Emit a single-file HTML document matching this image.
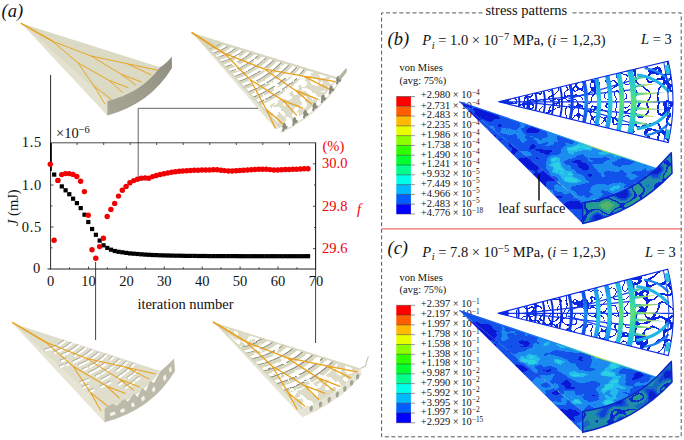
<!DOCTYPE html>
<html lang="en">
<head>
<meta charset="utf-8">
<title>Leaf venation optimisation figure</title>
<style>
html,body{margin:0;padding:0;background:#fff;}
body{width:684px;height:440px;overflow:hidden;font-family:"Liberation Serif",serif;}
svg{display:block;}
text{font-family:"Liberation Serif",serif;}
.it{font-style:italic;}
</style>
</head>
<body>
<svg width="684" height="440" viewBox="0 0 684 440">
<rect width="684" height="440" fill="#ffffff"/>

<defs>
<filter id="fsurfB" x="0" y="0" width="1" height="1" color-interpolation-filters="sRGB">
<feTurbulence type="fractalNoise" baseFrequency="0.04 0.07" numOctaves="3" seed="3" result="t"/>
<feColorMatrix in="t" type="matrix" values="1 0 0 0 0 1 0 0 0 0 1 0 0 0 0 0 0 0 0 1" result="n"/>
<feComposite in="SourceGraphic" in2="n" operator="arithmetic" k1="0" k2="1" k3="1.30" k4="-0.67" result="v"/>
<feColorMatrix in="v" type="matrix" values="1 0 0 0 0 1 0 0 0 0 1 0 0 0 0 0 0 0 0 1" result="v1"/>
<feComponentTransfer in="v1" result="c"><feFuncR type="discrete" tableValues="0.039 0.039 0.039 0.039 0.078 0.078 0.078 0.078 0.078 0.110 0.110 0.110 0.110 0.110 0.141 0.141 0.173 0.173 0.173 0.173"/><feFuncG type="discrete" tableValues="0.094 0.094 0.094 0.094 0.322 0.322 0.322 0.322 0.322 0.549 0.549 0.549 0.549 0.549 0.737 0.737 0.816 0.816 0.816 0.816"/><feFuncB type="discrete" tableValues="0.847 0.847 0.847 0.847 0.918 0.918 0.918 0.918 0.918 0.941 0.941 0.941 0.941 0.941 0.925 0.925 0.894 0.894 0.894 0.894"/></feComponentTransfer>
<feComposite in="c" in2="SourceGraphic" operator="in"/>
</filter>
<filter id="fsurfC" x="0" y="0" width="1" height="1" color-interpolation-filters="sRGB">
<feTurbulence type="fractalNoise" baseFrequency="0.04 0.07" numOctaves="3" seed="11" result="t"/>
<feColorMatrix in="t" type="matrix" values="1 0 0 0 0 1 0 0 0 0 1 0 0 0 0 0 0 0 0 1" result="n"/>
<feComposite in="SourceGraphic" in2="n" operator="arithmetic" k1="0" k2="1" k3="1.30" k4="-0.67" result="v"/>
<feColorMatrix in="v" type="matrix" values="1 0 0 0 0 1 0 0 0 0 1 0 0 0 0 0 0 0 0 1" result="v1"/>
<feComponentTransfer in="v1" result="c"><feFuncR type="discrete" tableValues="0.039 0.039 0.039 0.039 0.078 0.078 0.078 0.078 0.078 0.110 0.110 0.110 0.110 0.110 0.141 0.141 0.173 0.173 0.173 0.173"/><feFuncG type="discrete" tableValues="0.094 0.094 0.094 0.094 0.322 0.322 0.322 0.322 0.322 0.549 0.549 0.549 0.549 0.549 0.737 0.737 0.816 0.816 0.816 0.816"/><feFuncB type="discrete" tableValues="0.847 0.847 0.847 0.847 0.918 0.918 0.918 0.918 0.918 0.941 0.941 0.941 0.941 0.941 0.925 0.925 0.894 0.894 0.894 0.894"/></feComponentTransfer>
<feComposite in="c" in2="SourceGraphic" operator="in"/>
</filter>
<filter id="fwallB" x="0" y="0" width="1" height="1" color-interpolation-filters="sRGB">
<feTurbulence type="fractalNoise" baseFrequency="0.065 0.085" numOctaves="1" seed="5" result="t"/>
<feColorMatrix in="t" type="matrix" values="1 0 0 0 0 1 0 0 0 0 1 0 0 0 0 0 0 0 0 1" result="n"/>
<feComposite in="SourceGraphic" in2="n" operator="arithmetic" k1="0" k2="1" k3="1.70" k4="-0.95" result="v"/>
<feColorMatrix in="v" type="matrix" values="1 0 0 0 0 1 0 0 0 0 1 0 0 0 0 0 0 0 0 1" result="v1"/>
<feComponentTransfer in="v1" result="c"><feFuncR type="discrete" tableValues="0.039 0.039 0.039 0.063 0.063 0.086 0.086 0.118 0.118 0.118 0.039 0.039 0.145 0.145 0.145 0.220 0.220 0.314 0.314 0.314"/><feFuncG type="discrete" tableValues="0.125 0.125 0.125 0.251 0.251 0.408 0.408 0.549 0.549 0.549 0.157 0.157 0.604 0.604 0.604 0.659 0.659 0.706 0.706 0.706"/><feFuncB type="discrete" tableValues="0.816 0.816 0.816 0.847 0.847 0.769 0.769 0.659 0.659 0.659 0.816 0.816 0.580 0.580 0.580 0.486 0.486 0.424 0.424 0.424"/></feComponentTransfer>
<feComposite in="c" in2="SourceGraphic" operator="in"/>
</filter>
<filter id="fwallC" x="0" y="0" width="1" height="1" color-interpolation-filters="sRGB">
<feTurbulence type="fractalNoise" baseFrequency="0.065 0.085" numOctaves="1" seed="9" result="t"/>
<feColorMatrix in="t" type="matrix" values="1 0 0 0 0 1 0 0 0 0 1 0 0 0 0 0 0 0 0 1" result="n"/>
<feComposite in="SourceGraphic" in2="n" operator="arithmetic" k1="0" k2="1" k3="1.70" k4="-0.95" result="v"/>
<feColorMatrix in="v" type="matrix" values="1 0 0 0 0 1 0 0 0 0 1 0 0 0 0 0 0 0 0 1" result="v1"/>
<feComponentTransfer in="v1" result="c"><feFuncR type="discrete" tableValues="0.039 0.039 0.039 0.063 0.063 0.086 0.086 0.118 0.118 0.118 0.039 0.039 0.145 0.145 0.145 0.220 0.220 0.314 0.314 0.314"/><feFuncG type="discrete" tableValues="0.125 0.125 0.125 0.251 0.251 0.408 0.408 0.549 0.549 0.549 0.157 0.157 0.604 0.604 0.604 0.659 0.659 0.706 0.706 0.706"/><feFuncB type="discrete" tableValues="0.816 0.816 0.816 0.847 0.847 0.769 0.769 0.659 0.659 0.659 0.816 0.816 0.580 0.580 0.580 0.486 0.486 0.424 0.424 0.424"/></feComponentTransfer>
<feComposite in="c" in2="SourceGraphic" operator="in"/>
</filter>
<linearGradient id="gsurf" gradientUnits="userSpaceOnUse" x1="459" y1="102" x2="640" y2="195">
<stop offset="0" stop-color="#1c1c1c"/><stop offset="0.18" stop-color="#484848"/><stop offset="0.45" stop-color="#848484"/><stop offset="0.8" stop-color="#8a8a8a"/><stop offset="1" stop-color="#747474"/></linearGradient>
<linearGradient id="gwall" gradientUnits="userSpaceOnUse" x1="583" y1="213" x2="672" y2="163">
<stop offset="0" stop-color="#888"/><stop offset="0.5" stop-color="#8c8c8c"/><stop offset="1" stop-color="#747474"/></linearGradient>
<linearGradient id="gside" gradientUnits="userSpaceOnUse" x1="459" y1="102" x2="583" y2="213"><stop offset="0" stop-color="#202020"/><stop offset="0.4" stop-color="#484848"/><stop offset="1" stop-color="#5c5c5c"/></linearGradient>
<linearGradient id="gfringe" gradientUnits="userSpaceOnUse" x1="459" y1="102" x2="583" y2="203"><stop offset="0" stop-color="#1452ea"/><stop offset="0.45" stop-color="#1c8cf0"/><stop offset="0.6" stop-color="#40dca0"/><stop offset="0.72" stop-color="#c8e040"/><stop offset="0.85" stop-color="#34d8c0"/><stop offset="1" stop-color="#1c8cf0"/></linearGradient>
<linearGradient id="gfringe2" gradientUnits="userSpaceOnUse" x1="459" y1="102" x2="656" y2="169"><stop offset="0" stop-color="#1452ea"/><stop offset="0.5" stop-color="#1c8cf0"/><stop offset="0.62" stop-color="#34d8c0"/><stop offset="0.72" stop-color="#d8e040"/><stop offset="0.8" stop-color="#40dca0"/><stop offset="1" stop-color="#1c8cf0"/></linearGradient>
<filter id="fmazeB" x="0" y="0" width="1" height="1" color-interpolation-filters="sRGB">
<feTurbulence type="fractalNoise" baseFrequency="0.12 0.12" numOctaves="1" seed="4" result="t"/>
<feColorMatrix in="t" type="matrix" values="0 0 0 0 0.039 0 0 0 0 0.157 0 0 0 0 0.878 2.2 0 0 0 -0.6" result="n"/>
<feComponentTransfer in="n" result="c"><feFuncA type="discrete" tableValues="0 0 0 0 0 0 0 0 0 0 0 0 0 0 0 0 0 0 1 1 1 1 1 0 0 0 0 0 0 0 0 0 0 0 0 0 0 0 0 0"/></feComponentTransfer>
<feComposite in="c" in2="SourceGraphic" operator="in"/>
</filter>
<filter id="fmazeC" x="0" y="0" width="1" height="1" color-interpolation-filters="sRGB">
<feTurbulence type="fractalNoise" baseFrequency="0.12 0.12" numOctaves="1" seed="8" result="t"/>
<feColorMatrix in="t" type="matrix" values="0 0 0 0 0.039 0 0 0 0 0.157 0 0 0 0 0.878 2.2 0 0 0 -0.6" result="n"/>
<feComponentTransfer in="n" result="c"><feFuncA type="discrete" tableValues="0 0 0 0 0 0 0 0 0 0 0 0 0 0 0 0 0 0 1 1 1 1 1 0 0 0 0 0 0 0 0 0 0 0 0 0 0 0 0 0"/></feComponentTransfer>
<feComposite in="c" in2="SourceGraphic" operator="in"/>
</filter>
<filter id="fmazeB2" x="0" y="0" width="1" height="1" color-interpolation-filters="sRGB">
<feTurbulence type="fractalNoise" baseFrequency="0.088 0.088" numOctaves="1" seed="14" result="t"/>
<feColorMatrix in="t" type="matrix" values="0 0 0 0 0.039 0 0 0 0 0.157 0 0 0 0 0.878 2.2 0 0 0 -0.6" result="n"/>
<feComponentTransfer in="n" result="c"><feFuncA type="discrete" tableValues="0 0 0 0 0 0 0 0 0 0 0 0 0 0 0 0 0 1 1 1 1 1 1 1 0 0 0 0 0 0 0 0 0 0 0 0 0 0 0 0"/></feComponentTransfer>
<feComposite in="c" in2="SourceGraphic" operator="in"/>
</filter>
<filter id="fmazeC2" x="0" y="0" width="1" height="1" color-interpolation-filters="sRGB">
<feTurbulence type="fractalNoise" baseFrequency="0.088 0.088" numOctaves="1" seed="18" result="t"/>
<feColorMatrix in="t" type="matrix" values="0 0 0 0 0.039 0 0 0 0 0.157 0 0 0 0 0.878 2.2 0 0 0 -0.6" result="n"/>
<feComponentTransfer in="n" result="c"><feFuncA type="discrete" tableValues="0 0 0 0 0 0 0 0 0 0 0 0 0 0 0 0 0 1 1 1 1 1 1 1 0 0 0 0 0 0 0 0 0 0 0 0 0 0 0 0"/></feComponentTransfer>
<feComposite in="c" in2="SourceGraphic" operator="in"/>
</filter>
<clipPath id="clipfanB"><path d="M498.5 101.8 L668.2 61.1 A176.5 176.5 0 0 1 668.2 142.5 Z"/></clipPath>
<linearGradient id="garcB" gradientUnits="userSpaceOnUse" x1="0" y1="55.8" x2="0" y2="147.8"><stop offset="0" stop-color="#1878f0"/><stop offset="0.22" stop-color="#22c0e0"/><stop offset="0.42" stop-color="#40dc98"/><stop offset="0.5" stop-color="#60e070"/><stop offset="0.58" stop-color="#40dc98"/><stop offset="0.78" stop-color="#22c0e0"/><stop offset="1" stop-color="#1878f0"/></linearGradient>
<linearGradient id="garc2B" gradientUnits="userSpaceOnUse" x1="0" y1="61.8" x2="0" y2="141.8"><stop offset="0" stop-color="#1460ec"/><stop offset="0.25" stop-color="#1ca0f0"/><stop offset="0.5" stop-color="#28d0e0"/><stop offset="0.75" stop-color="#1ca0f0"/><stop offset="1" stop-color="#1460ec"/></linearGradient>
<linearGradient id="garc3B" gradientUnits="userSpaceOnUse" x1="0" y1="71.8" x2="0" y2="131.8"><stop offset="0" stop-color="#0c38e4"/><stop offset="0.35" stop-color="#1668f0"/><stop offset="0.5" stop-color="#1c90f0"/><stop offset="0.65" stop-color="#1668f0"/><stop offset="1" stop-color="#0c38e4"/></linearGradient>
<linearGradient id="gthornB" gradientUnits="userSpaceOnUse" x1="634.5" y1="0" x2="663.5" y2="0"><stop offset="0" stop-color="#30c8c0"/><stop offset="0.5" stop-color="#b0e040"/><stop offset="1" stop-color="#28a0e8"/></linearGradient>
<clipPath id="clipfanC"><path d="M497.9 313.3 L667.7 269.1 A177.5 177.5 0 0 1 668.3 355.5 Z"/></clipPath>
<linearGradient id="garcC" gradientUnits="userSpaceOnUse" x1="0" y1="267.3" x2="0" y2="359.3"><stop offset="0" stop-color="#1878f0"/><stop offset="0.22" stop-color="#22c0e0"/><stop offset="0.42" stop-color="#40dc98"/><stop offset="0.5" stop-color="#60e070"/><stop offset="0.58" stop-color="#40dc98"/><stop offset="0.78" stop-color="#22c0e0"/><stop offset="1" stop-color="#1878f0"/></linearGradient>
<linearGradient id="garc2C" gradientUnits="userSpaceOnUse" x1="0" y1="273.3" x2="0" y2="353.3"><stop offset="0" stop-color="#1460ec"/><stop offset="0.25" stop-color="#1ca0f0"/><stop offset="0.5" stop-color="#28d0e0"/><stop offset="0.75" stop-color="#1ca0f0"/><stop offset="1" stop-color="#1460ec"/></linearGradient>
<linearGradient id="garc3C" gradientUnits="userSpaceOnUse" x1="0" y1="283.3" x2="0" y2="343.3"><stop offset="0" stop-color="#0c38e4"/><stop offset="0.35" stop-color="#1668f0"/><stop offset="0.5" stop-color="#1c90f0"/><stop offset="0.65" stop-color="#1668f0"/><stop offset="1" stop-color="#0c38e4"/></linearGradient>
<linearGradient id="gthornC" gradientUnits="userSpaceOnUse" x1="633.9" y1="0" x2="662.9" y2="0"><stop offset="0" stop-color="#30c8c0"/><stop offset="0.5" stop-color="#b0e040"/><stop offset="1" stop-color="#28a0e8"/></linearGradient><linearGradient id="gw1" gradientUnits="userSpaceOnUse" x1="107" y1="108" x2="172" y2="62"><stop offset="0" stop-color="#a6a594"/><stop offset="0.6" stop-color="#9c9b8a"/><stop offset="1" stop-color="#8f8f81"/></linearGradient>
<clipPath id="clip_leaf2"><path d="M192.3 33.1 L338.0 77.5 L338.0 77.5 L334.6 82.5 L331.0 87.3 L327.0 92.1 L322.8 96.7 L318.2 101.2 L313.4 105.6 L308.4 109.7 L303.1 113.8 L297.5 117.6 L291.7 121.3 L285.7 124.7 L279.5 128.0 Z"/></clipPath>
<filter id="fd_leaf2" x="-0.05" y="-0.05" width="1.1" height="1.1" color-interpolation-filters="sRGB"><feTurbulence type="fractalNoise" baseFrequency="0.09 0.09" numOctaves="2" seed="22" result="t"/><feDisplacementMap in="SourceGraphic" in2="t" scale="1.8" xChannelSelector="R" yChannelSelector="G"/></filter>
<filter id="fw_leaf2" x="0" y="0" width="1" height="1" color-interpolation-filters="sRGB">
<feTurbulence type="fractalNoise" baseFrequency="0.15 0.15" numOctaves="2" seed="23" result="t"/>
<feColorMatrix in="t" type="matrix" values="0 0 0 0 0.992 0 0 0 0 0.992 0 0 0 0 0.973 2.2 0 0 0 -0.6" result="n"/>
<feComponentTransfer in="n" result="c"><feFuncA type="discrete" tableValues="0 0 0 0 0 0 0 0 0 0 0 0 0 0 0 0 0 0 0 0 0 0 0 0 0 0 0 0 0 0 1 1 1 1 1 1 1 1 1 1"/></feComponentTransfer>
<feComposite in="c" in2="SourceGraphic" operator="in"/>
</filter>
<filter id="fb_leaf2" x="0" y="0" width="1" height="1" color-interpolation-filters="sRGB">
<feTurbulence type="fractalNoise" baseFrequency="0.14 0.14" numOctaves="2" seed="21" result="t"/>
<feColorMatrix in="t" type="matrix" values="0 0 0 0 0.867 0 0 0 0 0.863 0 0 0 0 0.784 2.2 0 0 0 -0.6" result="n"/>
<feComponentTransfer in="n" result="c"><feFuncA type="discrete" tableValues="0 0 0 0 0 0 0 0 0 0 0 0 0 0 0 0 0 1 1 1 1 1 1 1 1 1 1 1 1 1 1 1 1 1 1 1 1 1 1 1"/></feComponentTransfer>
<feComposite in="c" in2="SourceGraphic" operator="in"/>
</filter>
<clipPath id="clip_leaf3"><path d="M12.5 323.3 L160.5 371.1 Q141 399 104.4 408.8 Z"/></clipPath>
<clipPath id="clip_leaf4"><path d="M213.8 322.5 L360.5 368.6 L360.5 368.6 L357.1 372.8 L353.4 376.8 L349.4 380.7 L345.1 384.5 L340.5 388.2 L335.6 391.7 L330.5 395.1 L325.1 398.3 L319.5 401.4 L313.6 404.3 L307.6 407.0 L301.3 409.5 Z"/></clipPath>
<filter id="fd_leaf4" x="-0.05" y="-0.05" width="1.1" height="1.1" color-interpolation-filters="sRGB"><feTurbulence type="fractalNoise" baseFrequency="0.09 0.09" numOctaves="2" seed="34" result="t"/><feDisplacementMap in="SourceGraphic" in2="t" scale="2.2" xChannelSelector="R" yChannelSelector="G"/></filter>
<filter id="fa_leaf4" x="0" y="0" width="1" height="1" color-interpolation-filters="sRGB">
<feTurbulence type="fractalNoise" baseFrequency="0.2 0.2" numOctaves="2" seed="38" result="t"/>
<feColorMatrix in="t" type="matrix" values="0 0 0 0 0.867 0 0 0 0 0.863 0 0 0 0 0.784 2.2 0 0 0 -0.6" result="n"/>
<feComponentTransfer in="n" result="c"><feFuncA type="discrete" tableValues="0 0 0 0 0 0 0 0 0 0 0 0 0 0 0 0 1 1 1 1 1 1 1 1 1 1 1 1 1 1 1 1 1 1 1 1 1 1 1 1"/></feComponentTransfer>
<feComposite in="c" in2="SourceGraphic" operator="in"/>
</filter>
<filter id="fw_leaf4" x="0" y="0" width="1" height="1" color-interpolation-filters="sRGB">
<feTurbulence type="fractalNoise" baseFrequency="0.15 0.15" numOctaves="2" seed="35" result="t"/>
<feColorMatrix in="t" type="matrix" values="0 0 0 0 0.992 0 0 0 0 0.992 0 0 0 0 0.973 2.2 0 0 0 -0.6" result="n"/>
<feComponentTransfer in="n" result="c"><feFuncA type="discrete" tableValues="0 0 0 0 0 0 0 0 0 0 0 0 0 0 0 0 0 0 0 0 0 0 0 0 0 0 0 0 0 0 0 0 0 1 1 1 1 1 1 1"/></feComponentTransfer>
<feComposite in="c" in2="SourceGraphic" operator="in"/>
</filter>
<filter id="fb_leaf4" x="0" y="0" width="1" height="1" color-interpolation-filters="sRGB">
<feTurbulence type="fractalNoise" baseFrequency="0.11 0.11" numOctaves="2" seed="33" result="t"/>
<feColorMatrix in="t" type="matrix" values="0 0 0 0 0.867 0 0 0 0 0.863 0 0 0 0 0.784 2.2 0 0 0 -0.6" result="n"/>
<feComponentTransfer in="n" result="c"><feFuncA type="discrete" tableValues="0 0 0 0 0 0 0 0 0 0 0 0 0 0 0 0 0 1 1 1 1 1 1 1 1 1 1 1 1 1 1 1 1 1 1 1 1 1 1 1"/></feComponentTransfer>
<feComposite in="c" in2="SourceGraphic" operator="in"/>
</filter></defs>

<g id="leaf1">
<path d="M21.1 23.2 L107.3 100.9 L107.3 115.5 Z" fill="#e3e2d0"/>
<path d="M21.1 23.2 L160 67.3 Q141 93 107.3 100.9 Z" fill="#dbdac4"/>
<path d="M107.3 100.9 Q141 93 160 67.3 Q168 62 171.8 56.4 L172 68 Q150 104 107.3 115.5 Z" fill="url(#gw1)"/>
<path d="M52.4 41.2 L90.9 55.9 L127.5 63.8 L157.7 70.2 M127.5 63.8 L151.3 75 M90.9 55.9 L121.1 74.2 L141.8 82.1 M121.1 74.2 L136.2 85.3 M52.4 41.2 L77.8 62.7 L109.2 80.5 L128.3 87.7 M109.2 80.5 L122.7 92.5 M77.8 62.7 L94.1 86.1 L105.2 104.4 M94.1 86.1 L111.6 99.6" fill="none" stroke="#e9a11c" stroke-width="0.95" stroke-linejoin="round"/>
<path d="M21.2 23.4 L52.4 41.2" fill="none" stroke="#e9a11c" stroke-width="1.5" stroke-linecap="round"/>
</g>
<g id="leaf2">
<path d="M192.3 33.1 L279.5 128 L276 129.5 Z" fill="#e6e5d4"/>
<path d="M192.3 33.1 L338.0 77.5 L338.0 77.5 L334.6 82.5 L331.0 87.3 L327.0 92.1 L322.8 96.7 L318.2 101.2 L313.4 105.6 L308.4 109.7 L303.1 113.8 L297.5 117.6 L291.7 121.3 L285.7 124.7 L279.5 128.0 Z" fill="#ffffff"/>
<g clip-path="url(#clip_leaf2)">
<g filter="url(#fd_leaf2)">
<path d="M192.3 33.1 L221.4 42.0 L221.4 42.0 L219.2 43.6 L216.9 45.1 L214.4 46.3 L211.9 47.3 L209.3 48.1 L206.7 48.7 Z" fill="#d8d7c0"/>
<path d="M222.4 42.3 L221.0 43.3 L219.6 44.3 L218.2 45.2 L216.7 46.0 L215.1 46.8 L213.6 47.4 L212.0 48.0 L210.4 48.5 L208.8 48.9 L207.2 49.3" fill="none" stroke="#8c8c80" stroke-width="1.15"/>
<path d="M224.4 42.9 L222.9 44.0 L221.4 45.0 L219.9 46.0 L218.3 46.9 L216.7 47.7 L215.0 48.4 L213.3 49.0 L211.6 49.6 L209.9 50.0 L208.2 50.4" fill="none" stroke="#d8d7c0" stroke-width="2.70"/>
<path d="M230.0 44.6 L228.3 45.9 L226.6 47.1 L224.8 48.3 L222.9 49.3 L221.1 50.3 L219.1 51.2 L217.2 51.9 L215.2 52.6 L213.2 53.2 L211.2 53.6" fill="none" stroke="#8c8c80" stroke-width="1.15"/>
<path d="M231.9 45.2 L230.2 46.6 L228.4 47.9 L226.5 49.1 L224.6 50.2 L222.6 51.2 L220.6 52.1 L218.5 53.0 L216.4 53.7 L214.3 54.3 L212.2 54.8" fill="none" stroke="#d8d7c0" stroke-width="2.70"/>
<path d="M237.5 46.9 L235.6 48.5 L233.6 50.0 L231.5 51.4 L229.3 52.7 L227.1 53.9 L224.8 55.0 L222.4 55.9 L220.1 56.8 L217.7 57.5 L215.3 58.1" fill="none" stroke="#8c8c80" stroke-width="1.15"/>
<path d="M239.5 47.5 L237.5 49.2 L235.4 50.8 L233.2 52.2 L231.0 53.6 L228.6 54.8 L226.2 56.0 L223.8 57.0 L221.3 57.9 L218.9 58.6 L216.4 59.3" fill="none" stroke="#d8d7c0" stroke-width="2.70"/>
<path d="M245.1 49.2 L242.9 51.1 L240.6 52.9 L238.2 54.6 L235.7 56.1 L233.1 57.5 L230.5 58.8 L227.8 60.0 L225.0 61.0 L222.3 61.9 L219.5 62.7" fill="none" stroke="#8c8c80" stroke-width="1.15"/>
<path d="M247.1 49.8 L244.8 51.8 L242.5 53.6 L240.0 55.4 L237.4 57.0 L234.7 58.5 L232.0 59.8 L229.2 61.0 L226.4 62.1 L223.5 63.1 L220.6 63.9" fill="none" stroke="#d8d7c0" stroke-width="2.70"/>
<path d="M252.7 51.5 L250.2 53.7 L247.7 55.8 L245.0 57.7 L242.2 59.5 L239.3 61.2 L236.3 62.7 L233.2 64.1 L230.1 65.3 L227.0 66.4 L223.8 67.4" fill="none" stroke="#8c8c80" stroke-width="1.15"/>
<path d="M254.7 52.1 L252.2 54.4 L249.5 56.5 L246.8 58.5 L243.9 60.4 L240.9 62.2 L237.8 63.7 L234.7 65.2 L231.5 66.5 L228.2 67.6 L224.9 68.6" fill="none" stroke="#d8d7c0" stroke-width="2.70"/>
<path d="M260.3 53.8 L257.6 56.3 L254.8 58.7 L251.8 60.9 L248.7 63.0 L245.5 64.9 L242.2 66.7 L238.8 68.3 L235.3 69.8 L231.8 71.0 L228.2 72.2" fill="none" stroke="#8c8c80" stroke-width="1.15"/>
<path d="M262.2 54.4 L259.5 57.0 L256.6 59.4 L253.6 61.7 L250.4 63.9 L247.1 65.9 L243.7 67.7 L240.2 69.4 L236.7 70.9 L233.0 72.3 L229.4 73.4" fill="none" stroke="#d8d7c0" stroke-width="2.70"/>
<path d="M267.8 56.1 L265.0 58.9 L261.9 61.6 L258.7 64.1 L255.3 66.5 L251.8 68.7 L248.1 70.7 L244.4 72.6 L240.6 74.2 L236.7 75.8 L232.7 77.1" fill="none" stroke="#8c8c80" stroke-width="1.15"/>
<path d="M269.8 56.7 L266.9 59.6 L263.8 62.4 L260.5 65.0 L257.0 67.4 L253.4 69.7 L249.7 71.8 L245.9 73.7 L242.0 75.4 L238.0 77.0 L233.9 78.4" fill="none" stroke="#d8d7c0" stroke-width="2.70"/>
<path d="M275.4 58.4 L272.3 61.6 L269.1 64.5 L265.6 67.4 L261.9 70.0 L258.1 72.5 L254.2 74.8 L250.1 76.9 L246.0 78.8 L241.7 80.6 L237.3 82.1" fill="none" stroke="#8c8c80" stroke-width="1.15"/>
<path d="M277.4 59.0 L274.3 62.2 L270.9 65.3 L267.4 68.2 L263.7 70.9 L259.8 73.5 L255.8 75.9 L251.6 78.0 L247.4 80.0 L243.0 81.8 L238.6 83.4" fill="none" stroke="#d8d7c0" stroke-width="2.70"/>
<path d="M283.0 60.7 L279.7 64.2 L276.2 67.5 L272.5 70.6 L268.6 73.6 L264.6 76.3 L260.3 78.9 L255.9 81.3 L251.4 83.5 L246.8 85.5 L242.1 87.3" fill="none" stroke="#8c8c80" stroke-width="1.15"/>
<path d="M285.0 61.3 L281.7 64.9 L278.1 68.2 L274.4 71.5 L270.4 74.5 L266.3 77.3 L261.9 80.0 L257.5 82.5 L252.9 84.7 L248.1 86.8 L243.3 88.6" fill="none" stroke="#d8d7c0" stroke-width="2.70"/>
<path d="M290.6 63.0 L287.1 66.8 L283.5 70.4 L279.6 73.9 L275.4 77.1 L271.1 80.2 L266.5 83.1 L261.8 85.8 L257.0 88.2 L252.0 90.5 L246.9 92.5" fill="none" stroke="#8c8c80" stroke-width="1.15"/>
<path d="M292.5 63.6 L289.1 67.5 L285.4 71.2 L281.4 74.7 L277.2 78.1 L272.8 81.2 L268.2 84.2 L263.4 86.9 L258.5 89.5 L253.4 91.8 L248.2 93.9" fill="none" stroke="#d8d7c0" stroke-width="2.70"/>
<path d="M298.1 65.4 L294.6 69.5 L290.7 73.4 L286.6 77.2 L282.2 80.8 L277.7 84.2 L272.8 87.3 L267.8 90.3 L262.7 93.1 L257.3 95.6 L251.8 97.9" fill="none" stroke="#8c8c80" stroke-width="1.15"/>
<path d="M300.1 66.0 L296.5 70.2 L292.6 74.2 L288.5 78.0 L284.0 81.7 L279.4 85.2 L274.5 88.5 L269.4 91.5 L264.1 94.3 L258.7 96.9 L253.1 99.3" fill="none" stroke="#d8d7c0" stroke-width="2.70"/>
<path d="M305.7 67.7 L302.0 72.1 L298.0 76.4 L293.7 80.5 L289.1 84.4 L284.3 88.1 L279.2 91.6 L273.9 94.9 L268.4 98.0 L262.7 100.8 L256.9 103.4" fill="none" stroke="#8c8c80" stroke-width="1.15"/>
<path d="M307.7 68.3 L304.0 72.8 L299.9 77.2 L295.6 81.4 L290.9 85.4 L286.0 89.2 L280.9 92.8 L275.5 96.1 L269.9 99.3 L264.2 102.2 L258.2 104.8" fill="none" stroke="#d8d7c0" stroke-width="2.70"/>
</g>
<path d="M218.9 49.0 L310.4 73.6 L310.4 73.6 L304.6 80.1 L298.1 86.3 L291.0 92.1 L283.3 97.5 L275.2 102.4 L266.7 106.8 Z" fill="#000" filter="url(#fw_leaf2)"/>
<path d="M313.2 70.0 313.2 70.0 L308.4 75.9 L303.1 81.6 L297.3 87.0 L291.0 92.1 L284.3 96.9 L277.2 101.3 L269.7 105.3 L262.0 108.9 L281.2 129.9 281.2 129.9 L290.7 124.8 L299.6 119.3 L308.0 113.3 L315.9 107.0 L323.1 100.3 L329.7 93.3 L335.7 86.0 L340.9 78.4 Z" fill="#000" filter="url(#fb_leaf2)"/>
<path d="M192.3 33.1 L338.0 77.5 M192.3 33.1 L279.5 128.0" stroke="#d8d7c0" stroke-width="4.40" fill="none"/>
</g>
<path d="M224.4 53.4 L264.7 69.2 L303.4 76.1 L335.4 81.6 M303.4 76.1 L328.2 88.7 M264.7 69.2 L295.9 90.7 L317.6 99.2 M295.9 90.7 L311.4 104.1 M224.4 53.4 L250.3 79.7 L282.8 100.4 L302.8 108.1 M282.8 100.4 L296.5 115.1 M250.3 79.7 L266.3 109.5 L275.3 128.0 M266.3 109.5 L282.8 123.8" fill="none" stroke="#e9a11c" stroke-width="1.30" stroke-linejoin="round" stroke-linecap="round"/><path d="M192.1 32.7 L224.4 53.4" fill="none" stroke="#e9a11c" stroke-width="1.80" stroke-linecap="round"/>
</g>
<path d="M339.2 82.1 L335.8 87.1 L332.2 91.9 L328.2 96.7 L324.0 101.3 L319.4 105.8 L314.6 110.2 L309.6 114.3 L304.3 118.4 L298.7 122.2 L292.9 125.9 L286.9 129.3 L280.7 132.6" fill="none" stroke="#e2e1cf" stroke-width="1.6"/>
<path d="M336.0 79.0 l1.6 -3.2 l1.8 0.6 l0.6 2.4 l1.6 0.4 l-0.8 2.2 l-2.6 1 l-0.6 2.2 l-2 -0.6 l0.8 -2.6 Z M328.9 88.7 l1.6 -3.2 l1.8 0.6 l0.6 2.4 l1.6 0.4 l-0.8 2.2 l-2.6 1 l-0.6 2.2 l-2 -0.6 l0.8 -2.6 Z M320.9 97.6 l1.6 -3.2 l1.8 0.6 l0.6 2.4 l1.6 0.4 l-0.8 2.2 l-2.6 1 l-0.6 2.2 l-2 -0.6 l0.8 -2.6 Z M312.4 105.6 l1.6 -3.2 l1.8 0.6 l0.6 2.4 l1.6 0.4 l-0.8 2.2 l-2.6 1 l-0.6 2.2 l-2 -0.6 l0.8 -2.6 Z M303.1 113.0 l1.6 -3.2 l1.8 0.6 l0.6 2.4 l1.6 0.4 l-0.8 2.2 l-2.6 1 l-0.6 2.2 l-2 -0.6 l0.8 -2.6 Z M292.4 120.3 l1.6 -3.2 l1.8 0.6 l0.6 2.4 l1.6 0.4 l-0.8 2.2 l-2.6 1 l-0.6 2.2 l-2 -0.6 l0.8 -2.6 Z M282.2 126.1 l1.6 -3.2 l1.8 0.6 l0.6 2.4 l1.6 0.4 l-0.8 2.2 l-2.6 1 l-0.6 2.2 l-2 -0.6 l0.8 -2.6 Z" fill="#8c8c7e"/>
<path d="M338 77.5 L346.6 67.6 L346.8 72 L340.5 80 Z" fill="#b5b4a2"/>
<g id="leaf3">
<path d="M12.5 323.3 L104.4 408.8 L104.4 422.3 Z" fill="#e6e5d4"/>
<path d="M12.5 323.3 L160.5 371.1 Q141 399 104.4 408.8 Z" fill="#dfdecc"/>
<path d="M104.4 408.8 L112 404 L117 405.5 L124 399 L128 401.5 L134 393.5 L137.5 397 L142 388 L146 391 L150 381 L154 383 L160.5 371.1 Q168 365 174 358.5 L175 371 Q152 410 104.4 422.3 Z" fill="#bcbbaa"/>
<path d="M110 413 l5 -1.5 l0.5 3 l-5 1.8 Z M120 410 l4 -2 l1 3.5 l-4 1.5 Z M131 404 l2.5 -2 l1.5 4 l-3 1.2 Z M141 398 l3 -2.5 l1 4 l-3 2 Z M152 389 l2.5 -3 l1 4.5 l-2.5 2 Z M163 377 l2.5 -3 l1 5 l-2.5 2.5 Z M169 369 l2 -3 l0.8 4.5 l-2 2.5 Z" fill="#f4f4ec"/>
<g clip-path="url(#clip_leaf3)">
<path d="M64.8 341.3 L64.1 341.9 L63.3 342.4 M62.6 343.0 L61.7 343.5 L60.9 344.1 M61.0 344.0 L60.1 344.6 L59.2 345.1 M56.2 346.6 L55.6 346.9 L54.9 347.2 M53.4 347.8 L52.9 348.1 L52.3 348.3 M51.1 348.7 L50.0 349.1 L49.0 349.4 M47.9 349.8 L46.9 350.0 L45.9 350.3 M72.0 343.4 L71.1 344.1 L70.3 344.8 M69.7 345.2 L68.7 345.9 L67.8 346.5 M66.8 347.2 L65.8 347.8 L64.8 348.4 M64.5 348.5 L63.8 348.9 L63.1 349.2 M61.5 350.1 L60.4 350.6 L59.2 351.1 M58.7 351.3 L57.9 351.6 L57.0 351.9 M56.4 352.2 L55.7 352.4 L55.0 352.7 M78.7 345.9 L77.8 346.6 L76.9 347.3 M76.1 347.9 L75.4 348.5 L74.6 349.1 M73.3 349.9 L72.2 350.6 L71.1 351.2 M71.1 351.3 L70.0 351.9 L68.9 352.5 M68.1 352.9 L67.3 353.3 L66.4 353.7 M64.5 354.5 L63.8 354.8 L63.1 355.1 M85.6 348.2 L84.8 348.9 L83.9 349.6 M82.6 350.7 L81.6 351.4 L80.5 352.2 M79.7 352.7 L79.0 353.2 L78.3 353.6 M76.5 354.7 L75.6 355.2 L74.7 355.7 M66.6 359.4 L65.6 359.8 L64.6 360.1 M63.3 360.6 L62.4 360.9 L61.5 361.2 M92.6 350.4 L91.5 351.4 L90.3 352.4 M89.4 353.1 L88.7 353.7 L87.9 354.3 M86.3 355.4 L85.3 356.1 L84.3 356.7 M83.2 357.5 L81.8 358.2 L80.5 359.0 M80.1 359.2 L78.7 359.9 L77.4 360.6 M76.3 361.1 L74.8 361.8 L73.3 362.4 M68.5 364.3 L67.5 364.6 L66.5 365.0 M63.5 365.9 L62.2 366.3 L60.9 366.6 M98.8 353.4 L97.6 354.5 L96.4 355.5 M96.2 355.7 L95.1 356.6 L93.9 357.4 M92.9 358.2 L91.9 358.9 L90.9 359.6 M89.7 360.3 L88.2 361.2 L86.7 362.1 M85.1 363.0 L83.9 363.6 L82.7 364.2 M81.8 364.6 L80.7 365.1 L79.6 365.6 M105.9 355.5 L105.1 356.4 L104.2 357.2 M102.7 358.5 L101.6 359.3 L100.6 360.1 M99.1 361.2 L98.1 361.9 L97.1 362.6 M95.1 363.9 L93.9 364.7 L92.6 365.4 M92.2 365.6 L91.1 366.2 L90.0 366.8 M87.2 368.3 L85.6 369.1 L83.9 369.8 M113.1 357.6 L111.9 358.8 L110.6 360.0 M105.4 364.2 L104.2 365.1 L102.9 366.0 M102.4 366.4 L100.7 367.4 L99.1 368.5 M97.8 369.2 L96.2 370.1 L94.6 371.0 M92.9 371.8 L91.2 372.7 L89.5 373.5 M119.7 360.4 L118.8 361.2 L118.0 362.0 M116.4 363.4 L115.4 364.3 L114.5 365.1 M112.3 366.9 L111.4 367.5 L110.4 368.2 M108.4 369.7 L107.4 370.3 L106.4 371.0 M104.3 372.3 L103.2 372.9 L102.0 373.6 M99.5 375.0 L98.0 375.7 L96.5 376.5 M88.7 379.9 L86.6 380.7 L84.5 381.5 M84.2 381.6 L82.7 382.1 L81.2 382.6 M126.9 362.4 L125.5 363.8 L124.2 365.1 M123.2 366.0 L121.9 367.1 L120.6 368.3 M119.6 369.2 L118.4 370.1 L117.2 371.0 M109.6 376.1 L107.8 377.2 L105.9 378.3 M104.8 378.8 L103.6 379.5 L102.3 380.1 M88.2 386.1 L85.9 386.9 L83.6 387.6 M134.2 364.3 L133.0 365.6 L131.8 366.8 M129.7 368.9 L128.4 370.1 L127.0 371.3 M125.2 372.8 L123.9 373.9 L122.5 374.9 M121.5 375.6 L119.6 377.0 L117.6 378.3 M110.3 382.6 L108.9 383.4 L107.4 384.2 M104.6 385.5 L103.0 386.3 L101.2 387.1 M93.5 390.2 L91.6 390.9 L89.7 391.5 M136.7 371.3 L135.2 372.7 L133.6 374.2 M131.9 375.7 L130.4 376.9 L128.9 378.0 M122.0 382.9 L120.6 383.7 L119.2 384.6 M139.2 378.0 L137.7 379.3 L136.1 380.5 M134.1 382.1 L132.3 383.5 L130.4 384.9 M128.6 386.1 L127.1 387.0 L125.6 387.9" fill="none" stroke="#a9a897" stroke-width="2.3" stroke-linecap="round" transform="translate(-0.5 -0.7)"/>
<path d="M64.8 341.3 L64.1 341.9 L63.3 342.4 M62.6 343.0 L61.7 343.5 L60.9 344.1 M61.0 344.0 L60.1 344.6 L59.2 345.1 M56.2 346.6 L55.6 346.9 L54.9 347.2 M53.4 347.8 L52.9 348.1 L52.3 348.3 M51.1 348.7 L50.0 349.1 L49.0 349.4 M47.9 349.8 L46.9 350.0 L45.9 350.3 M72.0 343.4 L71.1 344.1 L70.3 344.8 M69.7 345.2 L68.7 345.9 L67.8 346.5 M66.8 347.2 L65.8 347.8 L64.8 348.4 M64.5 348.5 L63.8 348.9 L63.1 349.2 M61.5 350.1 L60.4 350.6 L59.2 351.1 M58.7 351.3 L57.9 351.6 L57.0 351.9 M56.4 352.2 L55.7 352.4 L55.0 352.7 M78.7 345.9 L77.8 346.6 L76.9 347.3 M76.1 347.9 L75.4 348.5 L74.6 349.1 M73.3 349.9 L72.2 350.6 L71.1 351.2 M71.1 351.3 L70.0 351.9 L68.9 352.5 M68.1 352.9 L67.3 353.3 L66.4 353.7 M64.5 354.5 L63.8 354.8 L63.1 355.1 M85.6 348.2 L84.8 348.9 L83.9 349.6 M82.6 350.7 L81.6 351.4 L80.5 352.2 M79.7 352.7 L79.0 353.2 L78.3 353.6 M76.5 354.7 L75.6 355.2 L74.7 355.7 M66.6 359.4 L65.6 359.8 L64.6 360.1 M63.3 360.6 L62.4 360.9 L61.5 361.2 M92.6 350.4 L91.5 351.4 L90.3 352.4 M89.4 353.1 L88.7 353.7 L87.9 354.3 M86.3 355.4 L85.3 356.1 L84.3 356.7 M83.2 357.5 L81.8 358.2 L80.5 359.0 M80.1 359.2 L78.7 359.9 L77.4 360.6 M76.3 361.1 L74.8 361.8 L73.3 362.4 M68.5 364.3 L67.5 364.6 L66.5 365.0 M63.5 365.9 L62.2 366.3 L60.9 366.6 M98.8 353.4 L97.6 354.5 L96.4 355.5 M96.2 355.7 L95.1 356.6 L93.9 357.4 M92.9 358.2 L91.9 358.9 L90.9 359.6 M89.7 360.3 L88.2 361.2 L86.7 362.1 M85.1 363.0 L83.9 363.6 L82.7 364.2 M81.8 364.6 L80.7 365.1 L79.6 365.6 M105.9 355.5 L105.1 356.4 L104.2 357.2 M102.7 358.5 L101.6 359.3 L100.6 360.1 M99.1 361.2 L98.1 361.9 L97.1 362.6 M95.1 363.9 L93.9 364.7 L92.6 365.4 M92.2 365.6 L91.1 366.2 L90.0 366.8 M87.2 368.3 L85.6 369.1 L83.9 369.8 M113.1 357.6 L111.9 358.8 L110.6 360.0 M105.4 364.2 L104.2 365.1 L102.9 366.0 M102.4 366.4 L100.7 367.4 L99.1 368.5 M97.8 369.2 L96.2 370.1 L94.6 371.0 M92.9 371.8 L91.2 372.7 L89.5 373.5 M119.7 360.4 L118.8 361.2 L118.0 362.0 M116.4 363.4 L115.4 364.3 L114.5 365.1 M112.3 366.9 L111.4 367.5 L110.4 368.2 M108.4 369.7 L107.4 370.3 L106.4 371.0 M104.3 372.3 L103.2 372.9 L102.0 373.6 M99.5 375.0 L98.0 375.7 L96.5 376.5 M88.7 379.9 L86.6 380.7 L84.5 381.5 M84.2 381.6 L82.7 382.1 L81.2 382.6 M126.9 362.4 L125.5 363.8 L124.2 365.1 M123.2 366.0 L121.9 367.1 L120.6 368.3 M119.6 369.2 L118.4 370.1 L117.2 371.0 M109.6 376.1 L107.8 377.2 L105.9 378.3 M104.8 378.8 L103.6 379.5 L102.3 380.1 M88.2 386.1 L85.9 386.9 L83.6 387.6 M134.2 364.3 L133.0 365.6 L131.8 366.8 M129.7 368.9 L128.4 370.1 L127.0 371.3 M125.2 372.8 L123.9 373.9 L122.5 374.9 M121.5 375.6 L119.6 377.0 L117.6 378.3 M110.3 382.6 L108.9 383.4 L107.4 384.2 M104.6 385.5 L103.0 386.3 L101.2 387.1 M93.5 390.2 L91.6 390.9 L89.7 391.5 M136.7 371.3 L135.2 372.7 L133.6 374.2 M131.9 375.7 L130.4 376.9 L128.9 378.0 M122.0 382.9 L120.6 383.7 L119.2 384.6 M139.2 378.0 L137.7 379.3 L136.1 380.5 M134.1 382.1 L132.3 383.5 L130.4 384.9 M128.6 386.1 L127.1 387.0 L125.6 387.9" fill="none" stroke="#ffffff" stroke-width="2.2" stroke-linecap="round"/>
</g>
<path d="M45.9 342.3 L86.9 358.6 L125.9 367.3 L155.7 373.9 M125.9 367.3 L149.3 379.1 M86.9 358.6 L119.1 378.9 L139.7 387.1 M119.1 378.9 L133.9 390.4 M45.9 342.3 L73.0 366.2 L106.4 386.0 L125.4 393.4 M106.4 386.0 L119.7 398.4 M73.0 366.2 L90.3 392.3 L101.1 410.9 M90.3 392.3 L107.9 406.3" fill="none" stroke="#e9a11c" stroke-width="1.05" stroke-linejoin="round"/>
<path d="M12.7 322.6 L45.9 342.3" fill="none" stroke="#e9a11c" stroke-width="1.6" stroke-linecap="round"/>
</g>
<g id="leaf4">
<path d="M213.8 322.5 L301.3 409.5 L303.3 418.2 Z" fill="#e6e5d4"/>
<path d="M213.8 322.5 L360.5 368.6 L360.5 368.6 L357.1 372.8 L353.4 376.8 L349.4 380.7 L345.1 384.5 L340.5 388.2 L335.6 391.7 L330.5 395.1 L325.1 398.3 L319.5 401.4 L313.6 404.3 L307.6 407.0 L301.3 409.5 Z" fill="#ffffff"/>
<g clip-path="url(#clip_leaf4)">
<g filter="url(#fd_leaf4)">
<path d="M213.8 322.5 L266.6 339.1 L266.6 339.1 L262.9 341.6 L258.8 343.8 L254.6 345.7 L250.1 347.2 L245.5 348.5 L240.9 349.4 Z" fill="#000" filter="url(#fa_leaf4)"/>
<path d="M213.8 322.5 L224.1 325.7 L224.1 325.7 L223.2 326.2 L222.4 326.5 L221.5 326.9 L220.5 327.1 L219.6 327.2 L218.7 327.3 Z" fill="#d8d7c0"/>
<path d="M264.1 338.3 L262.0 339.8 L259.7 341.1 L257.4 342.3 L255.0 343.5 L252.5 344.5 L250.0 345.4 L247.4 346.2 L244.8 346.9 L242.1 347.5 L239.5 348.0" fill="none" stroke="#85857a" stroke-width="1.50"/>
<path d="M266.6 339.1 L264.4 340.6 L262.1 342.1 L259.7 343.4 L257.2 344.6 L254.6 345.7 L251.9 346.6 L249.2 347.5 L246.4 348.3 L243.7 348.9 L240.9 349.4" fill="none" stroke="#d8d7c0" stroke-width="3.70"/>
<path d="M274.1 341.4 L271.6 343.2 L269.0 344.9 L266.3 346.4 L263.5 347.8 L260.6 349.1 L257.6 350.3 L254.5 351.3 L251.4 352.2 L248.3 353.0 L245.1 353.6" fill="none" stroke="#85857a" stroke-width="1.50"/>
<path d="M276.6 342.2 L274.1 344.1 L271.4 345.8 L268.6 347.4 L265.7 348.9 L262.7 350.3 L259.6 351.5 L256.4 352.6 L253.1 353.5 L249.9 354.4 L246.5 355.1" fill="none" stroke="#d8d7c0" stroke-width="3.70"/>
<path d="M284.0 344.6 L281.3 346.7 L278.4 348.6 L275.3 350.5 L272.1 352.2 L268.8 353.7 L265.4 355.2 L261.8 356.4 L258.2 357.6 L254.6 358.5 L250.9 359.4" fill="none" stroke="#85857a" stroke-width="1.50"/>
<path d="M286.6 345.4 L283.7 347.6 L280.7 349.6 L277.6 351.5 L274.3 353.3 L270.9 354.9 L267.3 356.4 L263.7 357.8 L260.0 358.9 L256.2 360.0 L252.4 360.9" fill="none" stroke="#d8d7c0" stroke-width="3.70"/>
<path d="M294.0 347.7 L291.0 350.1 L287.8 352.5 L284.4 354.6 L280.8 356.6 L277.1 358.5 L273.2 360.2 L269.3 361.7 L265.2 363.1 L261.1 364.3 L256.9 365.3" fill="none" stroke="#85857a" stroke-width="1.50"/>
<path d="M296.5 348.5 L293.4 351.0 L290.2 353.4 L286.7 355.7 L283.0 357.7 L279.2 359.7 L275.3 361.4 L271.2 363.0 L267.0 364.5 L262.8 365.8 L258.4 366.9" fill="none" stroke="#d8d7c0" stroke-width="3.70"/>
<path d="M304.0 350.8 L300.7 353.6 L297.2 356.3 L293.5 358.8 L289.6 361.1 L285.5 363.3 L281.3 365.3 L276.9 367.1 L272.4 368.7 L267.8 370.2 L263.0 371.5" fill="none" stroke="#85857a" stroke-width="1.50"/>
<path d="M306.5 351.6 L303.2 354.5 L299.6 357.3 L295.8 359.8 L291.8 362.2 L287.7 364.5 L283.3 366.6 L278.8 368.4 L274.2 370.2 L269.5 371.7 L264.6 373.0" fill="none" stroke="#d8d7c0" stroke-width="3.70"/>
<path d="M314.0 354.0 L310.5 357.1 L306.7 360.1 L302.7 363.0 L298.5 365.6 L294.1 368.1 L289.4 370.4 L284.6 372.6 L279.7 374.5 L274.6 376.2 L269.4 377.8" fill="none" stroke="#85857a" stroke-width="1.50"/>
<path d="M316.5 354.8 L312.9 358.0 L309.1 361.1 L305.1 364.0 L300.8 366.8 L296.3 369.4 L291.5 371.8 L286.6 374.0 L281.6 376.0 L276.4 377.8 L271.0 379.4" fill="none" stroke="#d8d7c0" stroke-width="3.70"/>
<path d="M323.9 357.1 L320.3 360.6 L316.3 364.0 L312.0 367.2 L307.5 370.2 L302.8 373.1 L297.8 375.7 L292.6 378.1 L287.2 380.4 L281.6 382.4 L275.9 384.2" fill="none" stroke="#85857a" stroke-width="1.50"/>
<path d="M326.5 357.9 L322.7 361.5 L318.7 365.0 L314.4 368.3 L309.8 371.4 L305.0 374.3 L299.9 377.0 L294.6 379.6 L289.1 381.9 L283.4 384.0 L277.6 385.9" fill="none" stroke="#d8d7c0" stroke-width="3.70"/>
<path d="M333.9 360.2 L330.1 364.2 L325.9 367.9 L321.4 371.5 L316.6 374.9 L311.6 378.1 L306.2 381.1 L300.6 383.8 L294.8 386.4 L288.8 388.8 L282.6 390.9" fill="none" stroke="#85857a" stroke-width="1.50"/>
<path d="M336.4 361.0 L332.6 365.0 L328.4 368.9 L323.8 372.6 L319.0 376.0 L313.8 379.3 L308.4 382.4 L302.7 385.3 L296.8 388.0 L290.6 390.4 L284.3 392.6" fill="none" stroke="#d8d7c0" stroke-width="3.70"/>
</g>
<path d="M225.9 329.4 L337.1 365.3 L337.1 365.3 L331.0 370.9 L324.3 376.2 L317.0 381.1 L309.0 385.6 L300.6 389.7 L291.6 393.3 Z" fill="#000" filter="url(#fw_leaf4)"/>
<path d="M340.0 362.1 340.0 362.1 L335.0 367.3 L329.5 372.2 L323.5 376.8 L317.0 381.1 L310.0 385.1 L302.6 388.8 L294.8 392.1 L286.7 395.0 L303.0 411.2 303.0 411.2 L312.6 407.3 L321.6 403.0 L330.1 398.2 L338.1 393.1 L345.4 387.7 L352.1 381.9 L358.1 375.8 L363.4 369.5 Z" fill="#000" filter="url(#fb_leaf4)"/>
<path d="M213.8 322.5 L360.5 368.6 M213.8 322.5 L301.3 409.5" stroke="#d8d7c0" stroke-width="3.20" fill="none"/>
</g>
<path d="M246.1 341.8 L286.7 357.7 L325.6 365.6 L357.8 372.1 M325.6 365.6 L350.6 377.9 M286.7 357.7 L318.0 377.9 L339.8 386.4 M318.0 377.9 L333.6 390.4 M246.1 341.8 L272.0 366.0 L304.7 385.7 L324.9 393.4 M304.7 385.7 L318.5 399.2 M272.0 366.0 L288.1 392.7 L297.1 409.3 M288.1 392.7 L304.6 406.0" fill="none" stroke="#e9a11c" stroke-width="1.30" stroke-linejoin="round" stroke-linecap="round"/><path d="M213.6 322.2 L246.1 341.8" fill="none" stroke="#e9a11c" stroke-width="1.80" stroke-linecap="round"/>
</g>
<path d="M301.3 409.5 L307.6 407.0 L313.6 404.3 L319.5 401.4 L325.1 398.3 L330.5 395.1 L335.6 391.7 L340.5 388.2 L345.1 384.5 L349.4 380.7 L353.4 376.8 L357.1 372.8 L360.5 368.6 L361.5 374.5 L362.1 373.6 L358.7 378.0 L355.0 382.2 L351.0 386.4 L346.7 390.4 L342.1 394.2 L337.2 398.0 L332.1 401.6 L326.7 405.0 L321.1 408.3 L315.2 411.4 L309.2 414.3 L302.9 417.0 Z" fill="#e6e5d5"/>
<path d="M360.5 368.6 L365.4 366 L368.3 356.4" fill="none" stroke="#c4c3b2" stroke-width="1.1"/>
<path d="M309.5 407.6 l2 -2 l1.5 1.5 l-0.5 3.5 l-2.5 1.5 Z M318.8 403.2 l2 -2 l1.5 1.5 l-0.5 3.5 l-2.5 1.5 Z M327.5 398.4 l2 -2 l1.5 1.5 l-0.5 3.5 l-2.5 1.5 Z M335.6 393.2 l2 -2 l1.5 1.5 l-0.5 3.5 l-2.5 1.5 Z M343.1 387.7 l2 -2 l1.5 1.5 l-0.5 3.5 l-2.5 1.5 Z M349.9 381.8 l2 -2 l1.5 1.5 l-0.5 3.5 l-2.5 1.5 Z M355.9 375.6 l2 -2 l1.5 1.5 l-0.5 3.5 l-2.5 1.5 Z" fill="#a3a394"/>
<g id="chart">
<path d="M138.2 178 V108.3 H258" fill="none" stroke="#555" stroke-width="0.9"/>
<path d="M95.6 262 V340" fill="none" stroke="#444" stroke-width="1"/>
<path d="M315.6 268 V343" fill="none" stroke="#444" stroke-width="1"/>
<path d="M50.6 75 V269.2" stroke="#2a2a2a" stroke-width="1" fill="none"/>
<path d="M50.9 143 V171" stroke="#000" stroke-width="1.8" fill="none"/>
<path d="M50 142.8 H316" stroke="#333" stroke-width="0.9" fill="none"/>
<path d="M47.5 269 H316" stroke="#222" stroke-width="1" fill="none"/>
<path d="M315.6 142.8 V269.2" stroke="#222" stroke-width="1.1" fill="none"/>
<path d="M69.5 269 v-1.8 M88.5 269 v-2.6 M107.4 269 v-1.8 M126.4 269 v-2.6 M145.3 269 v-1.8 M164.3 269 v-2.6 M183.2 269 v-1.8 M202.2 269 v-2.6 M221.1 269 v-1.8 M240.1 269 v-2.6 M259.0 269 v-1.8 M278.0 269 v-2.6 M296.9 269 v-1.8 M77.1 142.8 v2.2 M103.7 142.8 v2.2 M130.2 142.8 v2.2 M156.7 142.8 v2.2 M183.2 142.8 v2.2 M209.8 142.8 v2.2 M236.3 142.8 v2.2 M262.8 142.8 v2.2 M289.4 142.8 v2.2 M50.6 185.0 h3 M50.6 227.0 h3 M50.6 164.0 h1.8 M50.6 205.9 h1.8 M50.6 247.8 h1.8 M315.6 163.8 h-2.6 M315.6 206.3 h-2.6 M315.6 248.6 h-2.6 M315.6 185.0 h-1.6 M315.6 227.5 h-1.6" stroke="#222" stroke-width="0.8" fill="none"/>
<g fill="#000"><rect x="52.1" y="172.5" width="4.2" height="4.2"/><rect x="55.9" y="178.3" width="4.2" height="4.2"/><rect x="59.7" y="184.3" width="4.2" height="4.2"/><rect x="63.5" y="188.2" width="4.2" height="4.2"/><rect x="67.2" y="192.1" width="4.2" height="4.2"/><rect x="71.0" y="196.6" width="4.2" height="4.2"/><rect x="74.8" y="201.0" width="4.2" height="4.2"/><rect x="78.6" y="206.0" width="4.2" height="4.2"/><rect x="82.4" y="212.6" width="4.2" height="4.2"/><rect x="86.2" y="219.9" width="4.2" height="4.2"/><rect x="90.0" y="226.9" width="4.2" height="4.2"/><rect x="93.8" y="232.7" width="4.2" height="4.2"/><rect x="97.6" y="238.5" width="4.2" height="4.2"/><rect x="101.4" y="243.2" width="4.2" height="4.2"/><rect x="105.2" y="245.8" width="4.2" height="4.2"/><rect x="108.9" y="247.6" width="4.2" height="4.2"/><rect x="112.7" y="248.9" width="4.2" height="4.2"/><rect x="116.5" y="249.7" width="4.2" height="4.2"/><rect x="120.3" y="250.2" width="4.2" height="4.2"/><rect x="124.1" y="250.8" width="4.2" height="4.2"/><rect x="127.9" y="251.3" width="4.2" height="4.2"/><rect x="131.7" y="251.6" width="4.2" height="4.2"/><rect x="135.5" y="251.9" width="4.2" height="4.2"/><rect x="139.3" y="252.2" width="4.2" height="4.2"/><rect x="143.1" y="252.5" width="4.2" height="4.2"/><rect x="146.8" y="252.7" width="4.2" height="4.2"/><rect x="150.6" y="252.9" width="4.2" height="4.2"/><rect x="154.4" y="253.0" width="4.2" height="4.2"/><rect x="158.2" y="253.2" width="4.2" height="4.2"/><rect x="162.0" y="253.3" width="4.2" height="4.2"/><rect x="165.8" y="253.4" width="4.2" height="4.2"/><rect x="169.6" y="253.5" width="4.2" height="4.2"/><rect x="173.4" y="253.6" width="4.2" height="4.2"/><rect x="177.2" y="253.6" width="4.2" height="4.2"/><rect x="180.9" y="253.7" width="4.2" height="4.2"/><rect x="184.7" y="253.8" width="4.2" height="4.2"/><rect x="188.5" y="253.8" width="4.2" height="4.2"/><rect x="192.3" y="253.8" width="4.2" height="4.2"/><rect x="196.1" y="253.9" width="4.2" height="4.2"/><rect x="199.9" y="253.9" width="4.2" height="4.2"/><rect x="203.7" y="253.9" width="4.2" height="4.2"/><rect x="207.5" y="254.0" width="4.2" height="4.2"/><rect x="211.3" y="254.0" width="4.2" height="4.2"/><rect x="215.1" y="254.0" width="4.2" height="4.2"/><rect x="218.9" y="254.0" width="4.2" height="4.2"/><rect x="222.6" y="254.0" width="4.2" height="4.2"/><rect x="226.4" y="254.0" width="4.2" height="4.2"/><rect x="230.2" y="254.0" width="4.2" height="4.2"/><rect x="234.0" y="254.0" width="4.2" height="4.2"/><rect x="237.8" y="254.1" width="4.2" height="4.2"/><rect x="241.6" y="254.1" width="4.2" height="4.2"/><rect x="245.4" y="254.1" width="4.2" height="4.2"/><rect x="249.2" y="254.1" width="4.2" height="4.2"/><rect x="253.0" y="254.1" width="4.2" height="4.2"/><rect x="256.8" y="254.1" width="4.2" height="4.2"/><rect x="260.5" y="254.1" width="4.2" height="4.2"/><rect x="264.3" y="254.1" width="4.2" height="4.2"/><rect x="268.1" y="254.1" width="4.2" height="4.2"/><rect x="271.9" y="254.1" width="4.2" height="4.2"/><rect x="275.7" y="254.1" width="4.2" height="4.2"/><rect x="279.5" y="254.1" width="4.2" height="4.2"/><rect x="283.3" y="254.1" width="4.2" height="4.2"/><rect x="287.1" y="254.1" width="4.2" height="4.2"/><rect x="290.9" y="254.1" width="4.2" height="4.2"/><rect x="294.6" y="254.1" width="4.2" height="4.2"/><rect x="298.4" y="254.1" width="4.2" height="4.2"/><rect x="302.2" y="254.1" width="4.2" height="4.2"/><rect x="306.0" y="254.1" width="4.2" height="4.2"/></g>
<g fill="#f00000"><circle cx="50.3" cy="164.2" r="2.7"/><circle cx="54.1" cy="240.3" r="2.7"/><circle cx="57.9" cy="180.4" r="2.7"/><circle cx="61.7" cy="174.6" r="2.7"/><circle cx="65.5" cy="173.6" r="2.7"/><circle cx="69.2" cy="173.6" r="2.7"/><circle cx="73.0" cy="174.4" r="2.7"/><circle cx="76.8" cy="176.5" r="2.7"/><circle cx="80.6" cy="181.2" r="2.7"/><circle cx="84.4" cy="191.6" r="2.7"/><circle cx="88.2" cy="215.2" r="2.7"/><circle cx="92.0" cy="249.7" r="2.7"/><circle cx="95.8" cy="258.3" r="2.7"/><circle cx="99.6" cy="246.6" r="2.7"/><circle cx="103.4" cy="238.2" r="2.7"/><circle cx="107.2" cy="216.5" r="2.7"/><circle cx="110.9" cy="209.4" r="2.7"/><circle cx="114.7" cy="203.4" r="2.7"/><circle cx="118.5" cy="196.1" r="2.7"/><circle cx="122.3" cy="190.3" r="2.7"/><circle cx="126.1" cy="186.4" r="2.7"/><circle cx="129.9" cy="182.8" r="2.7"/><circle cx="133.7" cy="180.6" r="2.7"/><circle cx="137.5" cy="179.3" r="2.7"/><circle cx="141.3" cy="178.2" r="2.7"/><circle cx="145.1" cy="177.9" r="2.7"/><circle cx="148.8" cy="178.3" r="2.7"/><circle cx="152.6" cy="176.6" r="2.7"/><circle cx="156.4" cy="175.5" r="2.7"/><circle cx="160.2" cy="174.5" r="2.7"/><circle cx="164.0" cy="173.8" r="2.7"/><circle cx="167.8" cy="173.0" r="2.7"/><circle cx="171.6" cy="172.3" r="2.7"/><circle cx="175.4" cy="171.8" r="2.7"/><circle cx="179.2" cy="171.3" r="2.7"/><circle cx="182.9" cy="171.0" r="2.7"/><circle cx="186.7" cy="170.7" r="2.7"/><circle cx="190.5" cy="170.5" r="2.7"/><circle cx="194.3" cy="170.3" r="2.7"/><circle cx="198.1" cy="170.2" r="2.7"/><circle cx="201.9" cy="170.0" r="2.7"/><circle cx="205.7" cy="170.0" r="2.7"/><circle cx="209.5" cy="170.0" r="2.7"/><circle cx="213.3" cy="169.8" r="2.7"/><circle cx="217.1" cy="169.8" r="2.7"/><circle cx="220.9" cy="170.2" r="2.7"/><circle cx="224.6" cy="170.6" r="2.7"/><circle cx="228.4" cy="171.0" r="2.7"/><circle cx="232.2" cy="171.0" r="2.7"/><circle cx="236.0" cy="170.7" r="2.7"/><circle cx="239.8" cy="170.5" r="2.7"/><circle cx="243.6" cy="170.2" r="2.7"/><circle cx="247.4" cy="170.0" r="2.7"/><circle cx="251.2" cy="169.8" r="2.7"/><circle cx="255.0" cy="169.5" r="2.7"/><circle cx="258.8" cy="169.3" r="2.7"/><circle cx="262.5" cy="169.2" r="2.7"/><circle cx="266.3" cy="169.3" r="2.7"/><circle cx="270.1" cy="169.6" r="2.7"/><circle cx="273.9" cy="170.0" r="2.7"/><circle cx="277.7" cy="170.0" r="2.7"/><circle cx="281.5" cy="169.7" r="2.7"/><circle cx="285.3" cy="169.5" r="2.7"/><circle cx="289.1" cy="169.5" r="2.7"/><circle cx="292.9" cy="169.3" r="2.7"/><circle cx="296.6" cy="169.2" r="2.7"/><circle cx="300.4" cy="169.0" r="2.7"/><circle cx="304.2" cy="168.8" r="2.7"/><circle cx="308.0" cy="168.7" r="2.7"/></g>
<g font-size="14.5" fill="#111">
<text x="41.8" y="147.3" text-anchor="end" letter-spacing="0.6">1.5</text>
<text x="41.8" y="189.5" text-anchor="end" letter-spacing="0.6">1.0</text>
<text x="41.8" y="231.5" text-anchor="end" letter-spacing="0.6">0.5</text>
<text x="40.2" y="273.3" text-anchor="end">0</text>
<text x="50.6" y="286" text-anchor="middle">0</text>
<text x="88.5" y="286" text-anchor="middle">10</text>
<text x="126.4" y="286" text-anchor="middle">20</text>
<text x="164.3" y="286" text-anchor="middle">30</text>
<text x="202.2" y="286" text-anchor="middle">40</text>
<text x="240.1" y="286" text-anchor="middle">50</text>
<text x="278.0" y="286" text-anchor="middle">60</text>
<text x="315.9" y="286" text-anchor="middle">70</text>
<text x="185.5" y="309" text-anchor="middle">iteration number</text>
<text x="56" y="137.5">×10<tspan dy="-4.6" font-size="10.5">−6</tspan></text>
<text transform="translate(17.5 226) rotate(-90)"><tspan class="it">J</tspan> (mJ)</text>
</g>
<g font-size="14.5" fill="#f00000">
<text x="322" y="168.3">30.0</text>
<text x="322" y="210.8">29.8</text>
<text x="322" y="253.2">29.6</text>
<text x="322.5" y="151.2">(%)</text>
<text x="357" y="213.5" class="it">f</text>
</g>
</g>
<text x="1.5" y="17" font-size="18.5" class="it" fill="#111">(a)</text>
<g id="right">
<path d="M482.5 12.9 H381.6 V436.8 H681.2 V12.9 H571" fill="none" stroke="#444" stroke-width="0.9" stroke-dasharray="4 2.6"/>
<path d="M382 228.9 H681" stroke="#f03030" stroke-width="0.9" fill="none"/>
<text x="526.3" y="15.3" font-size="14.5" text-anchor="middle" fill="#111">stress patterns</text>
<g>
<text x="387.5" y="44.5" font-size="18.5" class="it" fill="#111">(b)</text>
<text x="422.3" y="45.2" font-size="14.5" fill="#111"><tspan class="it">P</tspan><tspan class="it" font-size="10.5" dy="3.6" dx="0.5">i</tspan><tspan dy="-3.6"> = 1.0 × 10</tspan><tspan font-size="10.5" dy="-5">−7</tspan><tspan dy="5"> MPa, (</tspan><tspan class="it">i</tspan> = 1,2,3)</text>
<text x="641.0" y="43.8" font-size="14.5" fill="#111"><tspan class="it">L</tspan> = 3</text>
<g font-size="10.45" fill="#111">
<text x="399.6" y="71.3">von Mises</text>
<text x="399.6" y="83.6">(avg: 75%)</text>
<rect x="396.3" y="96.50" width="14.6" height="9.84" fill="#ff0000"/>
<rect x="396.3" y="106.29" width="14.6" height="9.84" fill="#ff5d00"/>
<rect x="396.3" y="116.08" width="14.6" height="9.84" fill="#ffb900"/>
<rect x="396.3" y="125.87" width="14.6" height="9.84" fill="#e8ff00"/>
<rect x="396.3" y="135.66" width="14.6" height="9.84" fill="#8bff00"/>
<rect x="396.3" y="145.45" width="14.6" height="9.84" fill="#2eff00"/>
<rect x="396.3" y="155.24" width="14.6" height="9.84" fill="#00ff2e"/>
<rect x="396.3" y="165.03" width="14.6" height="9.84" fill="#00ff8b"/>
<rect x="396.3" y="174.82" width="14.6" height="9.84" fill="#00ffe8"/>
<rect x="396.3" y="184.61" width="14.6" height="9.84" fill="#00b9ff"/>
<rect x="396.3" y="194.40" width="14.6" height="9.84" fill="#005dff"/>
<rect x="396.3" y="204.19" width="14.6" height="9.84" fill="#0000ff"/>
<path d="M396.3 96.50 H415 M396.3 106.29 H415 M396.3 116.08 H415 M396.3 125.87 H415 M396.3 135.66 H415 M396.3 145.45 H415 M396.3 155.24 H415 M396.3 165.03 H415 M396.3 174.82 H415 M396.3 184.61 H415 M396.3 194.40 H415 M396.3 204.19 H415 M396.3 213.98 H415" stroke="#333" stroke-width="0.5" fill="none"/>
<text x="420.8" y="98.4">+2.980 × 10<tspan font-size="7.4" dy="-3.5">−4</tspan></text>
<text x="420.8" y="108.6">+2.731 × 10<tspan font-size="7.4" dy="-3.5">−4</tspan></text>
<text x="420.8" y="118.4">+2.483 × 10<tspan font-size="7.4" dy="-3.5">−4</tspan></text>
<text x="420.8" y="128.2">+2.235 × 10<tspan font-size="7.4" dy="-3.5">−4</tspan></text>
<text x="420.8" y="138.0">+1.986 × 10<tspan font-size="7.4" dy="-3.5">−4</tspan></text>
<text x="420.8" y="147.8">+1.738 × 10<tspan font-size="7.4" dy="-3.5">−4</tspan></text>
<text x="420.8" y="157.5">+1.490 × 10<tspan font-size="7.4" dy="-3.5">−4</tspan></text>
<text x="420.8" y="167.3">+1.241 × 10<tspan font-size="7.4" dy="-3.5">−4</tspan></text>
<text x="420.8" y="177.1">+9.932 × 10<tspan font-size="7.4" dy="-3.5">−5</tspan></text>
<text x="420.8" y="186.9">+7.449 × 10<tspan font-size="7.4" dy="-3.5">−5</tspan></text>
<text x="420.8" y="196.7">+4.966 × 10<tspan font-size="7.4" dy="-3.5">−5</tspan></text>
<text x="420.8" y="206.5">+2.483 × 10<tspan font-size="7.4" dy="-3.5">−5</tspan></text>
<text x="420.8" y="216.3">+4.776 × 10<tspan font-size="7.4" dy="-3.5">−18</tspan></text>
</g></g>
<g>
<text x="387.5" y="254.0" font-size="18.5" class="it" fill="#111">(c)</text>
<text x="422.3" y="256.8" font-size="14.5" fill="#111"><tspan class="it">P</tspan><tspan class="it" font-size="10.5" dy="3.6" dx="0.5">i</tspan><tspan dy="-3.6"> = 7.8 × 10</tspan><tspan font-size="10.5" dy="-5">−5</tspan><tspan dy="5"> MPa, (</tspan><tspan class="it">i</tspan> = 1,2,3)</text>
<text x="645.0" y="256.8" font-size="14.5" fill="#111"><tspan class="it">L</tspan> = 3</text>
<g font-size="10.45" fill="#111">
<text x="399.6" y="281.1">von Mises</text>
<text x="399.6" y="293.4">(avg: 75%)</text>
<rect x="396.3" y="305.30" width="14.6" height="9.84" fill="#ff0000"/>
<rect x="396.3" y="315.09" width="14.6" height="9.84" fill="#ff5d00"/>
<rect x="396.3" y="324.88" width="14.6" height="9.84" fill="#ffb900"/>
<rect x="396.3" y="334.67" width="14.6" height="9.84" fill="#e8ff00"/>
<rect x="396.3" y="344.46" width="14.6" height="9.84" fill="#8bff00"/>
<rect x="396.3" y="354.25" width="14.6" height="9.84" fill="#2eff00"/>
<rect x="396.3" y="364.04" width="14.6" height="9.84" fill="#00ff2e"/>
<rect x="396.3" y="373.83" width="14.6" height="9.84" fill="#00ff8b"/>
<rect x="396.3" y="383.62" width="14.6" height="9.84" fill="#00ffe8"/>
<rect x="396.3" y="393.41" width="14.6" height="9.84" fill="#00b9ff"/>
<rect x="396.3" y="403.20" width="14.6" height="9.84" fill="#005dff"/>
<rect x="396.3" y="412.99" width="14.6" height="9.84" fill="#0000ff"/>
<path d="M396.3 305.30 H415 M396.3 315.09 H415 M396.3 324.88 H415 M396.3 334.67 H415 M396.3 344.46 H415 M396.3 354.25 H415 M396.3 364.04 H415 M396.3 373.83 H415 M396.3 383.62 H415 M396.3 393.41 H415 M396.3 403.20 H415 M396.3 412.99 H415 M396.3 422.78 H415" stroke="#333" stroke-width="0.5" fill="none"/>
<text x="420.8" y="307.2">+2.397 × 10<tspan font-size="7.4" dy="-3.5">−1</tspan></text>
<text x="420.8" y="317.4">+2.197 × 10<tspan font-size="7.4" dy="-3.5">−1</tspan></text>
<text x="420.8" y="327.2">+1.997 × 10<tspan font-size="7.4" dy="-3.5">−1</tspan></text>
<text x="420.8" y="337.0">+1.798 × 10<tspan font-size="7.4" dy="-3.5">−1</tspan></text>
<text x="420.8" y="346.8">+1.598 × 10<tspan font-size="7.4" dy="-3.5">−1</tspan></text>
<text x="420.8" y="356.6">+1.398 × 10<tspan font-size="7.4" dy="-3.5">−1</tspan></text>
<text x="420.8" y="366.3">+1.198 × 10<tspan font-size="7.4" dy="-3.5">−1</tspan></text>
<text x="420.8" y="376.1">+9.987 × 10<tspan font-size="7.4" dy="-3.5">−2</tspan></text>
<text x="420.8" y="385.9">+7.990 × 10<tspan font-size="7.4" dy="-3.5">−2</tspan></text>
<text x="420.8" y="395.7">+5.992 × 10<tspan font-size="7.4" dy="-3.5">−2</tspan></text>
<text x="420.8" y="405.5">+3.995 × 10<tspan font-size="7.4" dy="-3.5">−2</tspan></text>
<text x="420.8" y="415.3">+1.997 × 10<tspan font-size="7.4" dy="-3.5">−2</tspan></text>
<text x="420.8" y="425.1">+2.929 × 10<tspan font-size="7.4" dy="-3.5">−15</tspan></text>
</g></g>
<g transform="translate(0 0.0)">
<path d="M459.2 101.7 L582.7 202.7 L582.7 223.6 Z" fill="url(#gside)" filter="url(#fsurfB)"/>
<path d="M459.2 101.7 L656.5 168.6 Q624.9 197.1 582.7 202.7 Z" fill="url(#gsurf)" filter="url(#fsurfB)"/>
<path d="M459.2 101.7 L582.7 202.7" stroke="url(#gfringe)" stroke-width="1" fill="none" stroke-dasharray="0 50 3 2 5 1.5 2 3 6 2 1 2" opacity="0.85"/>
<path d="M459.2 101.7 L656.5 168.6" stroke="url(#gfringe2)" stroke-width="1.1" fill="none"/>
<path d="M582.7 202.7 Q624.9 197.1 656.5 168.6 L671.3 152.7 L672 173.2 Q635.2 212.3 582.7 223.6 Z" fill="url(#gwall)" filter="url(#fwallB)"/>
<path d="M582.7 202.7 Q624.9 197.1 656.5 168.6 L671.3 152.7 L672 173.2 Q635.2 212.3 582.7 223.6 Z" fill="none" stroke="#0c24c8" stroke-width="1.5" stroke-linejoin="round"/>
</g>
<g transform="translate(0 208.7)">
<path d="M459.2 101.7 L582.7 202.7 L582.7 223.6 Z" fill="url(#gside)" filter="url(#fsurfC)"/>
<path d="M459.2 101.7 L656.5 168.6 Q624.9 197.1 582.7 202.7 Z" fill="url(#gsurf)" filter="url(#fsurfC)"/>
<path d="M459.2 101.7 L582.7 202.7" stroke="url(#gfringe)" stroke-width="1" fill="none" stroke-dasharray="0 50 3 2 5 1.5 2 3 6 2 1 2" opacity="0.85"/>
<path d="M459.2 101.7 L656.5 168.6" stroke="url(#gfringe2)" stroke-width="1.1" fill="none"/>
<path d="M582.7 202.7 Q624.9 197.1 656.5 168.6 L671.3 152.7 L672 173.2 Q635.2 212.3 582.7 223.6 Z" fill="url(#gwall)" filter="url(#fwallC)"/>
<path d="M582.7 202.7 Q624.9 197.1 656.5 168.6 L671.3 152.7 L672 173.2 Q635.2 212.3 582.7 223.6 Z" fill="none" stroke="#0c24c8" stroke-width="1.5" stroke-linejoin="round"/>
</g>
<path d="M539 174.4 V200.6" stroke="#000" stroke-width="1.4"/>
<text x="498.3" y="212.8" font-size="14.5" fill="#111">leaf surface</text>
<g clip-path="url(#clipfanB)">
<path d="M498.5 101.8 L635.7 67.4 L635.7 136.2 Z" fill="#000" filter="url(#fmazeB)"/>
<path d="M631.7 69.4 L674.2 58.1 L674.2 145.5 L631.7 134.2 Z" fill="#000" filter="url(#fmazeB2)"/>
<path d="M502.5 101.8 L673.0 101.8" stroke="#1038e6" stroke-width="1.3" fill="none"/>
<path d="M523.5 101.8 L634.9 89.4 M523.5 101.8 L634.9 114.2" stroke="#1038e6" stroke-width="1.2" fill="none"/>
<path d="M568.4 99.0 L633.7 79.9 M568.4 104.6 L633.7 123.7" stroke="#1038e6" stroke-width="1.1" fill="none"/>
<path d="M518.8 96.5 A21.4 21.4 0 0 1 518.8 107.1" fill="none" stroke="#0a28e0" stroke-width="1.9"/>
<path d="M527.1 94.4 A30.1 30.1 0 0 1 527.1 109.2" fill="none" stroke="#0a28e0" stroke-width="1.9"/>
<path d="M535.3 92.3 A38.8 38.8 0 0 1 535.3 111.3" fill="none" stroke="#0a28e0" stroke-width="1.9"/>
<path d="M543.5 90.2 A47.4 47.4 0 0 1 543.5 113.4" fill="none" stroke="#0a28e0" stroke-width="1.9"/>
<path d="M551.7 88.0 A56.1 56.1 0 0 1 551.7 115.6" fill="none" stroke="#0a28e0" stroke-width="1.9"/>
<path d="M560.0 85.9 A64.8 64.8 0 0 1 560.0 117.7" fill="none" stroke="#0a28e0" stroke-width="1.9"/>
<path d="M569.9 83.3 A75.2 75.2 0 0 1 569.9 120.3" fill="none" stroke="#1040e8" stroke-width="3.0"/>
<path d="M583.6 79.8 A89.7 89.7 0 0 1 583.6 123.8" fill="none" stroke="url(#garc3B)" stroke-width="3.7"/>
<path d="M596.0 76.6 A102.7 102.7 0 0 1 596.0 127.0" fill="none" stroke="url(#garc2B)" stroke-width="4.2"/>
<path d="M606.9 73.8 A114.2 114.2 0 0 1 606.9 129.8" fill="none" stroke="url(#garc2B)" stroke-width="4.4"/>
<path d="M618.0 70.9 A125.9 125.9 0 0 1 618.0 132.7" fill="none" stroke="url(#garcB)" stroke-width="4.6"/>
<path d="M629.4 67.9 A137.9 137.9 0 0 1 629.4 135.7" fill="none" stroke="url(#garcB)" stroke-width="5.6"/>
<path d="M633.8 80.4 L655.3 75.3 L633.3 77.5 Z" fill="url(#gthornB)"/>
<path d="M634.8 87.8 L656.5 83.8 L634.4 84.8 Z" fill="url(#gthornB)"/>
<path d="M635.4 95.7 L665.2 92.5 L635.2 92.7 Z" fill="url(#gthornB)"/>
<path d="M635.5 103.3 L665.5 101.8 L635.5 100.3 Z" fill="url(#gthornB)"/>
<path d="M635.3 109.8 L665.3 109.7 L635.4 106.8 Z" fill="url(#gthornB)"/>
<path d="M634.8 116.2 L656.8 116.8 L635.0 113.2 Z" fill="url(#gthornB)"/>
<path d="M633.7 123.8 L655.7 125.6 L634.2 120.8 Z" fill="url(#gthornB)"/>
<path d="M636.9 74.9 Q656.5 76.8 669.2 92.3" fill="none" stroke="#22b4e6" stroke-width="3"/>
<path d="M636.9 128.7 Q656.5 126.8 669.2 111.3" fill="none" stroke="#22b4e6" stroke-width="3"/>
<path d="M644.7 68.1 Q660.5 70.3 669.2 80.8" fill="none" stroke="#1c80f0" stroke-width="2.2"/>
<path d="M644.7 135.5 Q660.5 133.3 669.2 122.8" fill="none" stroke="#1c80f0" stroke-width="2.2"/>
<path d="M663.8 62.1 A174.5 174.5 0 0 1 663.8 141.5" fill="none" stroke="#1038e6" stroke-width="1"/>
</g>
<path d="M498.5 101.8 L668.2 61.1 A176.5 176.5 0 0 1 668.2 142.5 Z" fill="none" stroke="#0a28e0" stroke-width="1.1" stroke-linejoin="miter"/>
<path d="M666.8 65.1 L668.5 74.0" stroke="#28c0d8" stroke-width="4" fill="none"/>
<path d="M666.8 138.5 L668.5 129.6" stroke="#28c0d8" stroke-width="4" fill="none"/>
<path d="M498.0 101.8 L509.2 99.2 L509.2 104.4 Z" fill="#0a28e0"/>
<g clip-path="url(#clipfanC)">
<path d="M497.9 313.3 L634.4 276.3 L634.8 348.7 Z" fill="#000" filter="url(#fmazeC)"/>
<path d="M630.4 278.3 L673.7 266.1 L674.3 358.5 L630.8 346.7 Z" fill="#000" filter="url(#fmazeC2)"/>
<path d="M501.9 313.3 L673.4 313.3" stroke="#1038e6" stroke-width="1.3" fill="none"/>
<path d="M522.9 313.3 L634.3 300.9 M522.9 313.3 L634.3 325.7" stroke="#1038e6" stroke-width="1.2" fill="none"/>
<path d="M567.8 310.5 L633.1 291.4 M567.8 316.1 L633.1 335.2" stroke="#1038e6" stroke-width="1.1" fill="none"/>
<path d="M518.1 307.7 A21.4 21.4 0 0 1 518.2 318.7" fill="none" stroke="#0a28e0" stroke-width="1.9"/>
<path d="M526.3 305.4 A30.1 30.1 0 0 1 526.4 320.9" fill="none" stroke="#0a28e0" stroke-width="1.9"/>
<path d="M534.5 303.1 A38.8 38.8 0 0 1 534.6 323.1" fill="none" stroke="#0a28e0" stroke-width="1.9"/>
<path d="M542.7 300.8 A47.4 47.4 0 0 1 542.8 325.3" fill="none" stroke="#0a28e0" stroke-width="1.9"/>
<path d="M550.9 298.5 A56.1 56.1 0 0 1 551.1 327.4" fill="none" stroke="#0a28e0" stroke-width="1.9"/>
<path d="M559.1 296.2 A64.8 64.8 0 0 1 559.3 329.6" fill="none" stroke="#0a28e0" stroke-width="1.9"/>
<path d="M568.9 293.5 A75.2 75.2 0 0 1 569.1 332.3" fill="none" stroke="#1040e8" stroke-width="3.0"/>
<path d="M582.6 289.7 A89.7 89.7 0 0 1 582.8 335.9" fill="none" stroke="url(#garc3C)" stroke-width="3.7"/>
<path d="M594.9 286.2 A102.7 102.7 0 0 1 595.2 339.2" fill="none" stroke="url(#garc2C)" stroke-width="4.2"/>
<path d="M605.8 283.2 A114.2 114.2 0 0 1 606.1 342.1" fill="none" stroke="url(#garc2C)" stroke-width="4.4"/>
<path d="M616.8 280.1 A125.9 125.9 0 0 1 617.2 345.0" fill="none" stroke="url(#garcC)" stroke-width="4.6"/>
<path d="M628.1 276.9 A137.9 137.9 0 0 1 628.6 348.1" fill="none" stroke="url(#garcC)" stroke-width="5.6"/>
<path d="M633.2 291.9 L654.7 286.8 L632.7 289.0 Z" fill="url(#gthornC)"/>
<path d="M634.2 299.3 L655.9 295.3 L633.8 296.3 Z" fill="url(#gthornC)"/>
<path d="M634.8 307.2 L664.6 304.0 L634.6 304.2 Z" fill="url(#gthornC)"/>
<path d="M634.9 314.8 L664.9 313.3 L634.9 311.8 Z" fill="url(#gthornC)"/>
<path d="M634.7 321.3 L664.7 321.2 L634.8 318.3 Z" fill="url(#gthornC)"/>
<path d="M634.2 327.7 L656.2 328.3 L634.4 324.7 Z" fill="url(#gthornC)"/>
<path d="M633.1 335.3 L655.1 337.1 L633.6 332.3 Z" fill="url(#gthornC)"/>
<path d="M636.3 286.4 Q655.9 288.3 668.6 303.8" fill="none" stroke="#22b4e6" stroke-width="3"/>
<path d="M636.3 340.2 Q655.9 338.3 668.6 322.8" fill="none" stroke="#22b4e6" stroke-width="3"/>
<path d="M644.1 279.6 Q659.9 281.8 668.6 292.3" fill="none" stroke="#1c80f0" stroke-width="2.2"/>
<path d="M644.1 347.0 Q659.9 344.8 668.6 334.3" fill="none" stroke="#1c80f0" stroke-width="2.2"/>
<path d="M663.4 270.2 A175.5 175.5 0 0 1 663.9 354.4" fill="none" stroke="#1038e6" stroke-width="1"/>
</g>
<path d="M497.9 313.3 L667.7 269.1 A177.5 177.5 0 0 1 668.3 355.5 Z" fill="none" stroke="#0a28e0" stroke-width="1.1" stroke-linejoin="miter"/>
<path d="M666.5 273.1 L668.4 282.0" stroke="#28c0d8" stroke-width="4" fill="none"/>
<path d="M667.0 351.4 L668.7 342.5" stroke="#28c0d8" stroke-width="4" fill="none"/>
<path d="M497.4 313.3 L508.5 310.5 L508.6 315.9 Z" fill="#0a28e0"/>
</g>
</svg>
</body>
</html>
